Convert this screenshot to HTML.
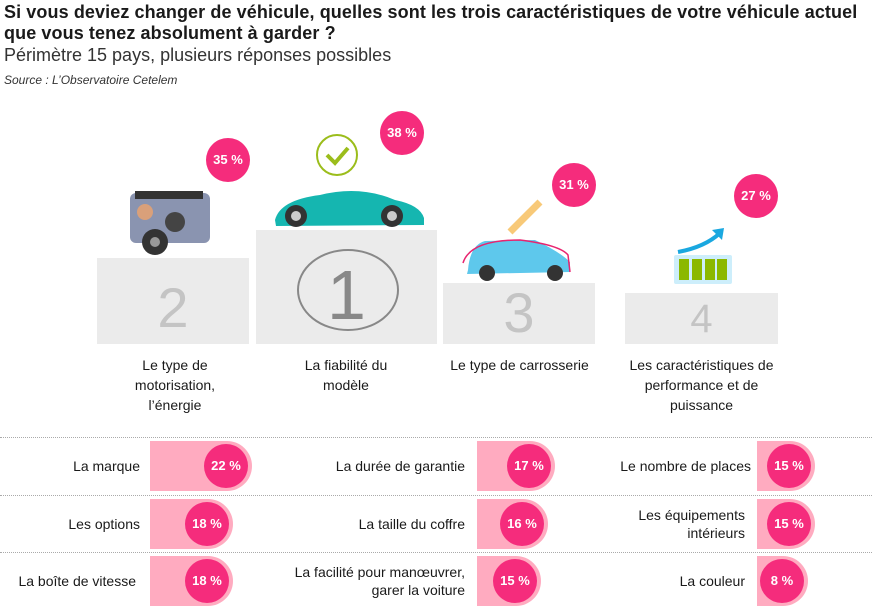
<!DOCTYPE html>
<html><head><meta charset="utf-8"><style>
body{margin:0;width:880px;height:610px;background:#fff;font-family:"Liberation Sans",sans-serif;color:#1a1a1a;position:relative;overflow:hidden}
.a{position:absolute}
.t{left:4px;top:2px;font-size:18px;font-weight:bold;line-height:21px;letter-spacing:0.1px}
.pod{background:#ebebeb;color:#c4c4c4;font-size:56px;text-align:center;font-weight:300}
.b{width:44px;height:44px;border-radius:50%;background:#f52c7c;color:#fff;font-weight:bold;font-size:13px;line-height:44px;text-align:center}
.lab{font-size:14px;text-align:center;line-height:20px}
.dot{left:0;width:872px;border-top:1px dotted #aaa}
.bar{background:#ffabc0;border-radius:0 25px 25px 0;height:50px}
.bar .b{position:absolute;right:4px;top:3px}
.rl{font-size:14px;text-align:right;line-height:18px}
</style></head><body>
<div class="a t">Si vous deviez changer de véhicule, quelles sont les trois caractéristiques de votre véhicule actuel<br>que vous tenez absolument à garder ?</div>
<div class="a" style="left:4px;top:45px;font-size:18px;color:#333">Périmètre 15 pays, plusieurs réponses possibles</div>
<div class="a" style="left:4px;top:73px;font-size:12px;font-style:italic;color:#333">Source : L’Observatoire Cetelem</div>

<div class="a pod" style="left:97px;top:258px;width:152px;height:86px;line-height:100px">2</div>
<div class="a pod" style="left:256px;top:230px;width:181px;height:114px;line-height:130px;color:#888;font-size:70px">1</div>
<div class="a pod" style="left:443px;top:283px;width:152px;height:61px;line-height:60px">3</div>
<div class="a pod" style="left:625px;top:293px;width:153px;height:51px;line-height:52px;font-size:40px">4</div>

<svg class="a" style="left:0;top:0" width="880" height="350">
<rect x="130" y="193" width="80" height="50" rx="6" fill="#8a94b0"/>
<rect x="135" y="191" width="68" height="8" fill="#333"/>
<circle cx="155" cy="242" r="13" fill="#333"/><circle cx="155" cy="242" r="5" fill="#999"/>
<circle cx="175" cy="222" r="10" fill="#444"/><circle cx="145" cy="212" r="8" fill="#d9a07a"/>
<ellipse cx="348" cy="290" rx="50" ry="40" fill="none" stroke="#888" stroke-width="2"/>
<path d="M275 220 Q280 200 320 195 Q360 185 395 200 Q420 205 424 218 L424 225 L276 226Z" fill="#15b6b0"/>
<circle cx="296" cy="216" r="11" fill="#333"/><circle cx="392" cy="216" r="11" fill="#333"/>
<circle cx="296" cy="216" r="5" fill="#ccc"/><circle cx="392" cy="216" r="5" fill="#ccc"/>
<circle cx="337" cy="155" r="20" fill="#fff" stroke="#9bbd1b" stroke-width="2"/>
<path d="M327 155 L335 163 L348 148" fill="none" stroke="#9bbd1b" stroke-width="4"/>
<path d="M468 270 Q470 245 485 241 L535 240 Q560 252 570 262 L570 272 L467 274Z" fill="#5ec8ec"/>
<circle cx="487" cy="273" r="8" fill="#333"/><circle cx="555" cy="273" r="8" fill="#333"/>
<path d="M463 263 Q470 240 520 240 Q560 245 568 255 L570 272" fill="none" stroke="#e8246f" stroke-width="1.5"/>
<path d="M510 232 L540 202" stroke="#f8c978" stroke-width="7"/>
<rect x="674" y="255" width="58" height="29" rx="2" fill="#cdeefb"/>
<rect x="679" y="259" width="10" height="21" fill="#8bb800"/><rect x="692" y="259" width="10" height="21" fill="#8bb800"/><rect x="705" y="259" width="10" height="21" fill="#8bb800"/><rect x="717" y="259" width="10" height="21" fill="#8bb800"/>
<path d="M678 252 Q705 247 720 233" fill="none" stroke="#1aa8e0" stroke-width="4"/><path d="M712 230 L724 228 L722 240Z" fill="#1aa8e0"/>
</svg>

<div class="a b" style="left:206px;top:138px">35 %</div>
<div class="a b" style="left:380px;top:111px">38 %</div>
<div class="a b" style="left:552px;top:163px">31 %</div>
<div class="a b" style="left:734px;top:174px">27 %</div>

<div class="a lab" style="left:105px;top:355px;width:140px">Le type de<br>motorisation,<br>l’énergie</div>
<div class="a lab" style="left:276px;top:355px;width:140px">La fiabilité du<br>modèle</div>
<div class="a lab" style="left:437px;top:355px;width:165px">Le type de carrosserie</div>
<div class="a lab" style="left:610px;top:355px;width:183px">Les caractéristiques de<br>performance et de<br>puissance</div>

<div class="a dot" style="top:437px"></div>
<div class="a dot" style="top:495px"></div>
<div class="a dot" style="top:552px"></div>

<div class="a rl" style="left:0;width:140px;top:457px">La marque</div>
<div class="a rl" style="left:0;width:140px;top:515px">Les options</div>
<div class="a rl" style="left:0;width:136px;top:572px">La boîte de vitesse</div>
<div class="a rl" style="left:250px;width:215px;top:457px">La durée de garantie</div>
<div class="a rl" style="left:250px;width:215px;top:515px">La taille du coffre</div>
<div class="a rl" style="left:250px;width:215px;top:563px">La facilité pour manœuvrer,<br>garer la voiture</div>
<div class="a rl" style="left:580px;width:171px;top:457px">Le nombre de places</div>
<div class="a rl" style="left:580px;width:165px;top:506px">Les équipements<br>intérieurs</div>
<div class="a rl" style="left:580px;width:165px;top:572px">La couleur</div>

<div class="a bar" style="left:150px;top:441px;width:102px"><div class="b">22 %</div></div>
<div class="a bar" style="left:150px;top:499px;width:83px"><div class="b">18 %</div></div>
<div class="a bar" style="left:150px;top:556px;width:83px"><div class="b">18 %</div></div>
<div class="a bar" style="left:477px;top:441px;width:78px"><div class="b">17 %</div></div>
<div class="a bar" style="left:477px;top:499px;width:71px"><div class="b">16 %</div></div>
<div class="a bar" style="left:477px;top:556px;width:64px"><div class="b">15 %</div></div>
<div class="a bar" style="left:757px;top:441px;width:58px"><div class="b">15 %</div></div>
<div class="a bar" style="left:757px;top:499px;width:58px"><div class="b">15 %</div></div>
<div class="a bar" style="left:757px;top:556px;width:51px"><div class="b">8 %</div></div>
</body></html>
